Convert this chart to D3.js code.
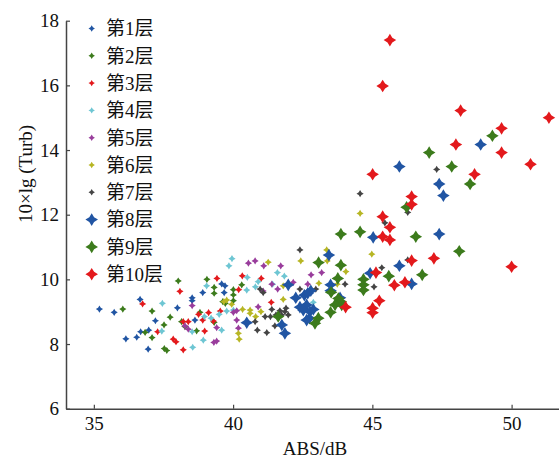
<!DOCTYPE html>
<html><head><meta charset="utf-8">
<script src="https://cdn.jsdelivr.net/npm/d3@7"></script>
<style>
html,body{margin:0;padding:0;background:#fff;}
svg{display:block;}
text{font-family:"Liberation Serif","Times New Roman","Noto Sans CJK SC",serif;fill:#111;}
</style></head>
<body>
<svg id="chart" width="559" height="459"></svg>
<script>
// ---- data (ABS/dB, 10×lg(Turb)) ----
const layerNames = ["第1层","第2层","第3层","第4层","第5层","第6层","第7层","第8层","第9层","第10层"];
const layerColors = ["#2155a3","#3c7b1c","#e3191c","#6ec6d3","#993d9c","#b7b624","#444444","#2155a3","#3c7b1c","#e3191c"];
const layerBig = [false,false,false,false,false,false,false,true,true,true];

const layer1 = [[35.20,9.08],[35.73,8.98],[36.66,9.38],[37.21,8.72],[38.00,9.12],[36.97,8.43],[36.68,8.38],[36.54,8.21],[36.15,8.16],[36.95,7.84],[38.53,9.43],[38.53,9.34],[38.91,9.59],[38.63,8.74],[39.59,9.86],[39.71,9.80],[39.68,9.59]];
const layer2 = [[36.04,9.08],[37.09,9.02],[37.74,8.83],[38.03,9.95],[36.84,8.36],[37.52,8.59],[37.09,8.20],[37.53,7.86],[37.62,7.80],[38.81,8.98],[39.06,10.00],[39.32,9.75],[39.32,9.57],[39.32,8.67],[38.69,8.41],[38.15,8.69],[38.27,8.54],[40.31,9.83],[40.01,9.68],[40.01,9.52],[40.01,9.34],[39.63,9.31],[39.72,9.26]];
const layer3 = [[36.75,9.24],[38.09,9.63],[37.29,8.38],[37.85,8.15],[37.95,8.07],[38.21,7.82],[38.76,8.92],[38.91,8.74],[39.42,10.03],[39.12,8.97],[39.29,8.71],[38.98,8.40],[38.21,8.69],[38.39,8.69],[40.33,10.11],[40.20,9.68],[41.01,10.03],[41.37,9.29],[39.54,9.02]];
const layer4 = [[37.46,9.26],[37.44,8.40],[38.55,7.90],[38.53,8.38],[39.05,9.80],[38.93,8.12],[38.97,8.85],[39.21,8.80],[39.50,8.92],[39.59,8.43],[39.96,10.64],[39.85,10.42],[41.59,10.21],[41.84,10.10],[40.51,10.06],[40.90,9.93],[40.80,9.77],[40.49,9.67],[40.01,9.05],[39.77,9.02],[41.42,9.85],[42.88,9.29]];
const layer5 = [[38.53,9.19],[39.41,8.51],[39.31,8.05],[39.41,8.09],[38.27,8.56],[38.39,8.46],[40.55,10.50],[40.79,10.57],[41.10,10.42],[41.71,10.42],[41.39,9.85],[41.60,9.70],[41.08,9.64],[40.90,9.15],[40.01,8.98],[40.13,9.03],[40.13,8.74],[40.19,8.49],[42.16,9.91],[42.68,9.85],[42.80,10.14],[43.18,10.21]];
const layer6 = [[39.77,9.36],[39.95,9.23],[40.34,9.07],[40.61,9.05],[40.61,8.95],[40.81,8.85],[41.00,9.00],[40.19,8.33],[40.22,8.15],[41.26,10.53],[42.43,10.57],[43.36,10.91],[43.38,10.57],[44.98,10.78],[44.56,12.04],[44.05,10.24],[41.80,9.80],[41.80,9.38],[43.08,9.88],[43.74,9.85],[39.67,9.31]];
const layer7 = [[40.97,9.70],[41.08,9.59],[41.68,9.03],[41.86,9.00],[41.74,8.90],[41.98,8.90],[41.54,8.90],[41.15,8.85],[41.34,8.85],[40.79,8.69],[40.87,8.43],[41.21,8.35],[41.50,8.56],[41.39,9.07],[41.90,9.11],[42.40,10.91],[42.40,9.70],[42.97,9.70],[44.02,9.85],[45.06,9.77],[44.56,12.65],[47.31,13.40],[46.27,12.07],[45.45,11.75],[46.27,10.60],[45.34,10.36]];
const layer8 = [[41.98,9.83],[42.25,9.43],[42.56,9.51],[42.79,9.65],[42.68,9.57],[42.40,9.14],[42.64,9.21],[42.88,9.07],[42.76,9.00],[42.52,9.05],[42.74,8.80],[42.64,8.74],[41.75,8.59],[41.86,8.33],[43.44,10.75],[43.50,9.83],[43.50,9.65],[43.84,9.43],[44.92,10.19],[45.03,11.30],[45.97,10.42],[46.41,9.86],[45.97,13.49],[47.40,12.95],[47.55,12.59],[47.40,11.40],[48.89,14.17],[40.49,8.66]];
const layer9 = [[41.62,8.85],[43.07,10.52],[43.87,10.44],[43.87,11.40],[44.56,11.47],[43.76,10.03],[44.68,10.00],[44.68,9.83],[44.68,9.67],[43.52,9.60],[43.78,9.41],[43.87,9.31],[43.66,9.21],[43.90,9.21],[43.50,8.98],[43.06,8.80],[42.94,8.64],[45.59,10.10],[46.79,10.14],[46.23,12.23],[46.56,11.32],[48.12,10.87],[47.04,13.92],[47.85,13.49],[48.51,12.95],[49.31,14.44]];
const layer10 = [[45.63,17.40],[45.37,15.98],[48.17,15.22],[51.34,15.00],[49.64,14.67],[48.00,14.17],[49.64,13.92],[50.68,13.56],[45.01,13.25],[48.67,13.25],[46.41,12.56],[46.41,12.32],[45.37,11.94],[45.63,11.61],[45.37,11.32],[45.63,11.22],[47.21,10.65],[46.41,10.58],[50.00,10.39],[45.13,10.21],[45.79,9.82],[46.17,9.91],[44.04,9.14],[45.25,9.34],[45.01,9.11],[45.01,8.97]];
const layers = [layer1,layer2,layer3,layer4,layer5,layer6,layer7,layer8,layer9,layer10];

const xTicks = [35,40,45,50];
const yTicks = [6,8,10,12,14,16,18];
const xDomain = [34,52];
const yDomain = [6,18];

// ---- drawing ----
const svg = d3.select("#chart");
const x = d3.scaleLinear().domain(xDomain).range([66, 567.3]);
const y = d3.scaleLinear().domain(yDomain).range([408.7, 20.7]);

function star(r){
  const w = r*0.38;
  return `M0,${-r}L${w},${-w}L${r},0L${w},${w}L0,${r}L${-w},${w}L${-r},0L${-w},${-w}Z`;
}

// points
layers.forEach((pts,i)=>{
  const r = layerBig[i] ? 6.3 : 3.6;
  svg.append("g").selectAll("path").data(pts).join("path")
    .attr("d", star(r))
    .attr("transform", d=>`translate(${x(d[0])},${y(d[1])})`)
    .attr("fill", layerColors[i]);
});

// axes
const axisColor = "#444";
const gx = svg.append("g").attr("transform",`translate(0,${y(6)})`)
  .call(d3.axisBottom(x).tickValues(xTicks).tickSizeInner(-4).tickSizeOuter(0).tickPadding(8).tickFormat(d3.format("d")));
const gy = svg.append("g").attr("transform",`translate(${x(34)},0)`)
  .call(d3.axisLeft(y).tickValues(yTicks).tickSizeInner(-4).tickSizeOuter(0).tickPadding(7).tickFormat(d3.format("d")));
[gx,gy].forEach(g=>{
  g.select(".domain").attr("stroke",axisColor).attr("stroke-width",1.5);
  g.selectAll(".tick line").attr("stroke",axisColor).attr("stroke-width",1.2);
  g.selectAll(".tick text").attr("fill","#111").style("font-size","19px")
   .style("font-family",'"Liberation Serif","Times New Roman",serif');
});

svg.append("text").attr("x",315).attr("y",455).attr("text-anchor","middle")
  .style("font-size","19px").text("ABS/dB");
svg.append("text").attr("transform","translate(32,174) rotate(-90)").attr("text-anchor","middle")
  .style("font-size","19px").text("10×lg (Turb)");

// legend
const lg = svg.append("g");
layerNames.forEach((name,i)=>{
  const cy = 28.5 + i*27.3;
  lg.append("path").attr("d", star(layerBig[i] ? 6.3 : 3.2))
    .attr("transform",`translate(91.7,${cy})`).attr("fill",layerColors[i]);
  lg.append("text").attr("x",106).attr("y",cy).attr("dy","0.36em")
    .style("font-size","19px").text(name);
});
</script>
</body></html>
